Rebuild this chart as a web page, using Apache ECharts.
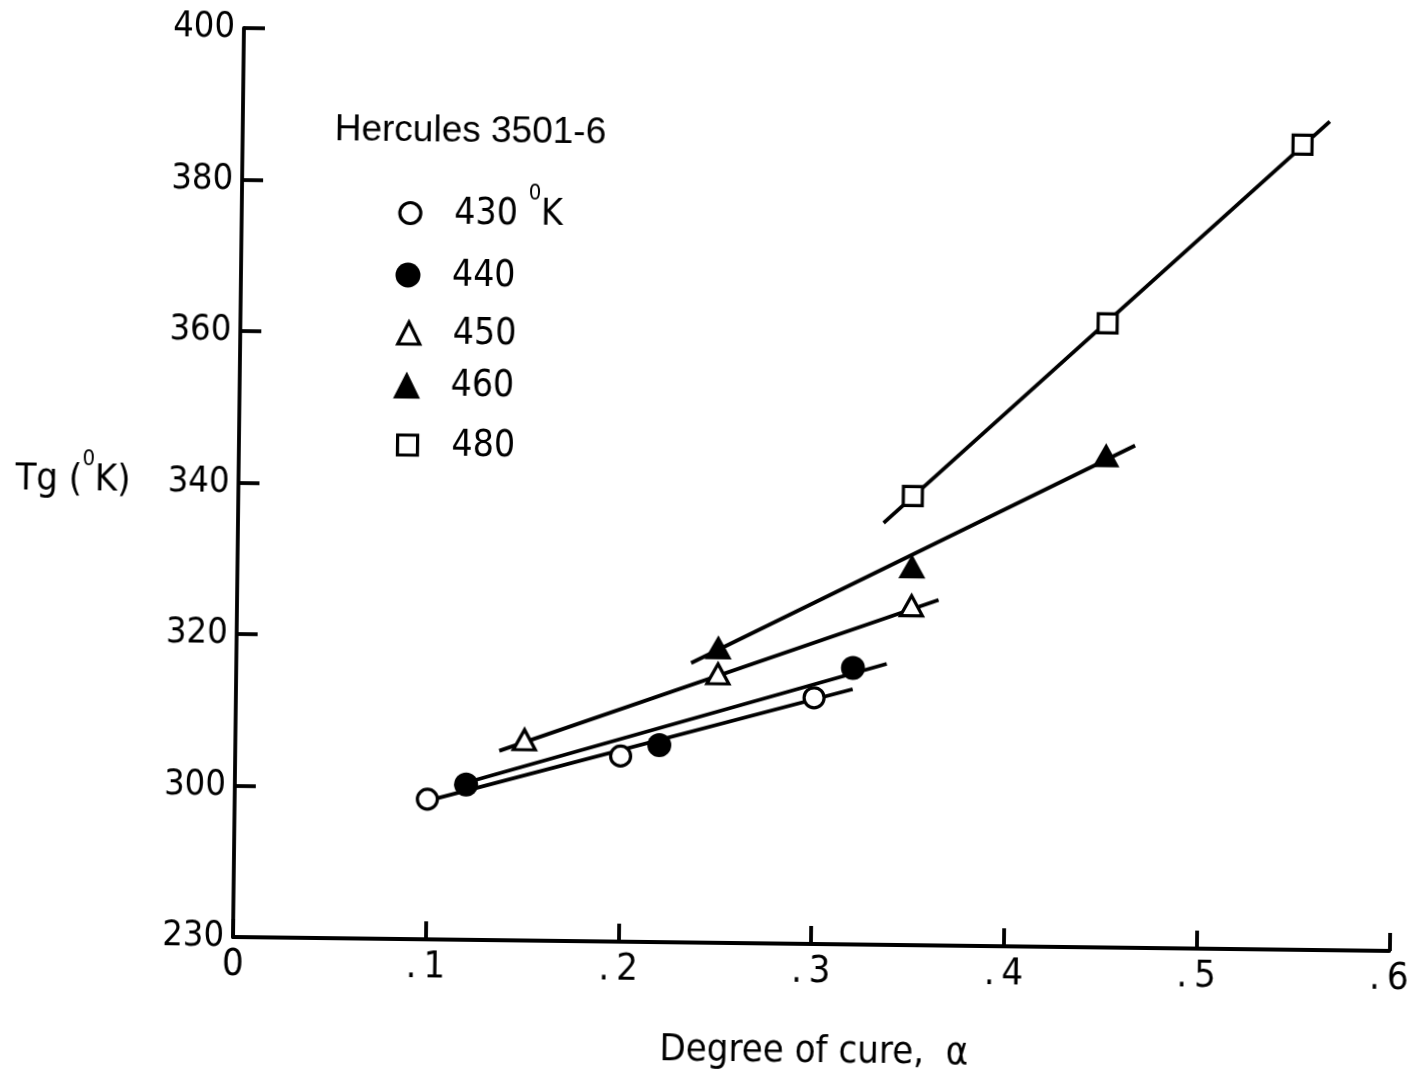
<!DOCTYPE html>
<html><head><meta charset="utf-8">
<script src="https://cdn.jsdelivr.net/npm/echarts@6/dist/echarts.min.js"></script>
<style>
html,body{margin:0;padding:0;background:#fff;overflow:hidden}
#chart{width:1412px;height:1076px;transform:rotate(0.69deg);transform-origin:233px 937px;}
</style></head><body><div id="chart"></div>
<script>
// ---- data ----
const xTickLabels = ['0', '.\u20091', '.\u20092', '.\u20093', '.\u20094', '.\u20095', '.\u20096'];
const yTickValues = [280, 300, 320, 340, 360, 380, 400];
const yTickLabels = ['230', '300', '320', '340', '360', '380', '400'];
const seriesNames = ['430', '440', '450', '460', '480'];
const legendLabels = ['{a|430 }{sup|0}{a|K}', '440', '450', '460', '480'];
const legendTitle = 'Hercules 3501-6';
const xAxisTitle = 'Degree of cure,  \u03b1';
const yAxisTitle = '{a|Tg (}{sup|0}{a|K)}';

const pts430 = [[0.10, 298.5], [0.20, 304.5], [0.30, 312.5]];
const pts440 = [[0.12, 300.5], [0.22, 306.0], [0.32, 316.5]];
const pts450 = [[0.15, 306.5], [0.25, 315.5], [0.35, 324.8]];
const pts460 = [[0.25, 319.0], [0.35, 330.0], [0.45, 345.0]];
const pts480 = [[0.35, 339.3], [0.45, 362.4], [0.55, 386.3]];

const fit430 = [[0.096, 298.0], [0.320, 313.7]];
const fit440 = [[0.114, 300.3], [0.3375, 317.1]];
const fit450 = [[0.137, 305.0], [0.364, 325.6]];
const fit460 = [[0.236, 316.9], [0.465, 346.3]];
const fit480 = [[0.335, 335.7], [0.564, 389.4]];

// ---- styles ----
const INK = '#000';
const NARROW = '"DejaVu Sans Condensed", "DejaVu Sans", sans-serif';
const REG = '"Liberation Sans", Arial, sans-serif';

const symbolStyles = [
  {symbol: 'circle', size: 20, open: true},
  {symbol: 'circle', size: 24, open: false},
  {symbol: 'triangle', size: [22, 20], open: true},
  {symbol: 'triangle', size: [27, 24], open: false},
  {symbol: 'rect', size: 19, open: true}
];
const legendIconSize = [21, 25, 22, 27, 20];
const legendCenterY = [211, 273, 331, 383, 443];
const legendCenterX = 400;
const legendTextX = 444;
const LEG_LH = 64;
const pts = [pts430, pts440, pts450, pts460, pts480];
const fits = [fit430, fit440, fit450, fit460, fit480];

function itemStyleFor(s) {
  return s.open ? {color: '#fff', borderColor: INK, borderWidth: 3.2, opacity: 1}
                : {color: INK, borderColor: INK, borderWidth: 0, opacity: 1};
}

const series = [];
fits.forEach((f, i) => {
  series.push({
    name: 'fit' + seriesNames[i], type: 'line', data: f, symbol: 'none',
    lineStyle: {color: INK, width: 3.8, opacity: 1}, z: 2, silent: true
  });
});
pts.forEach((p, i) => {
  const s = symbolStyles[i];
  series.push({
    name: seriesNames[i], type: 'scatter', data: p, symbol: s.symbol,
    symbolSize: s.size, itemStyle: itemStyleFor(s), z: 3, silent: true
  });
});

function rich(fs, supFs, lh) {
  return {
    a: {fontFamily: NARROW, fontSize: fs, color: INK, lineHeight: lh, verticalAlign: 'middle'},
    sup: {fontFamily: NARROW, fontSize: supFs, color: INK, lineHeight: 5, verticalAlign: 'top'}
  };
}

const legends = seriesNames.map((n, i) => {
  const s = symbolStyles[i];
  const sz = legendIconSize[i];
  return {
    data: [{name: n, icon: s.symbol, itemStyle: itemStyleFor(s)}],
    orient: 'vertical',
    left: legendCenterX - sz / 2 - 5,
    top: legendCenterY[i] - LEG_LH / 2 - 5,
    itemWidth: sz, itemHeight: sz,
    selectedMode: false,
    formatter: () => legendLabels[i],
    textStyle: {
      fontFamily: NARROW, fontSize: 37, color: INK, lineHeight: LEG_LH,
      padding: [0, 0, 0, legendTextX - (legendCenterX + sz / 2 + 5)],
      rich: rich(37, 22, LEG_LH)
    }
  };
});

const chart = echarts.init(document.getElementById('chart'), null, {renderer: 'canvas'});
chart.setOption({
  animation: false,
  backgroundColor: '#fff',
  title: {
    text: legendTitle, left: 320, top: 105,
    textStyle: {fontFamily: REG, fontSize: 37, fontWeight: 'normal', color: INK}
  },
  legend: legends,
  grid: {left: 233, top: 28, right: 17, bottom: 139, containLabel: false},
  xAxis: {
    type: 'value', min: 0, max: 0.6, interval: 0.1,
    name: xAxisTitle, nameLocation: 'middle', nameGap: 89,
    nameTextStyle: {fontFamily: NARROW, fontSize: 38, color: INK, padding: [0, 0, 0, 8]},
    axisLine: {show: true, lineStyle: {color: INK, width: 3.8}},
    axisTick: {show: true, inside: true, length: 18, lineStyle: {color: INK, width: 3.8}},
    axisLabel: {
      fontFamily: NARROW, fontSize: 38, color: INK, margin: 9,
      formatter: v => xTickLabels[Math.round(v * 10)]
    },
    splitLine: {show: false}
  },
  yAxis: {
    type: 'value', min: 280, max: 400, interval: 20,
    name: yAxisTitle, nameLocation: 'middle', nameGap: 108, nameRotate: 0,
    nameTextStyle: {fontFamily: NARROW, fontSize: 38, color: INK, rich: rich(38, 22, 64)},
    axisLine: {show: true, lineStyle: {color: INK, width: 3.8}},
    axisTick: {show: true, inside: true, length: 21, lineStyle: {color: INK, width: 3.8}},
    axisLabel: {
      fontFamily: NARROW, fontSize: 36, color: INK, margin: 9,
      formatter: v => yTickLabels[yTickValues.indexOf(v)]
    },
    splitLine: {show: false}
  },
  series: series
});
</script></body></html>
